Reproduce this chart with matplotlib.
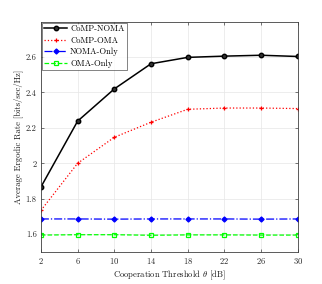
import matplotlib
matplotlib.use("Agg")
from matplotlib import pyplot as plt
import numpy as np

plt.rcParams['font.family'] = 'serif'
plt.rcParams['font.serif'] = ['cmr10', 'DejaVu Serif']
plt.rcParams['mathtext.fontset'] = 'cm'
plt.rcParams['axes.formatter.use_mathtext'] = True

# data
threshold = [2, 6, 10, 14, 18, 22, 26, 30]
comp_noma = [1.866, 2.238, 2.42, 2.562, 2.598, 2.605, 2.61, 2.603]
comp_oma = [1.734, 2.0, 2.147, 2.232, 2.305, 2.312, 2.312, 2.309]
noma_only = [1.686, 1.686, 1.685, 1.686, 1.686, 1.686, 1.685, 1.686]
oma_only = [1.595, 1.597, 1.597, 1.594, 1.596, 1.596, 1.595, 1.595]

fig = plt.figure(figsize=(3.22, 2.84), dpi=100)
ax = fig.add_axes([0.127, 0.113, 0.798, 0.811])

ax.plot(threshold, comp_noma, 'ko-', lw=1.1, ms=3.2, mfc='#303030', mew=1.0, label='CoMP-NOMA')
ax.plot(threshold, comp_oma, 'r+:', lw=0.9, ms=3.5, mew=0.9, label='CoMP-OMA')
ax.plot(threshold, noma_only, 'bD-.', lw=0.9, ms=2.6, mew=0.9, label='NOMA-Only')
ax.plot(threshold, oma_only, 's--', color='#00ff00', lw=0.9, ms=3, mfc='none', mew=0.9, label='OMA-Only')

ax.set_xlim(2, 30)
ax.set_ylim(1.5, 2.8)
ax.set_xticks(threshold)
ax.set_yticks([1.6, 1.8, 2.0, 2.2, 2.4, 2.6])
ax.set_yticklabels(['1.6', '1.8', '2', '2.2', '2.4', '2.6'])
ax.tick_params(direction='in', labelsize=6.2, length=2.5, width=0.5, pad=3,
               colors='#404040', labelcolor='#262626', top=True, right=True)
ax.grid(True, color='#e6e6e6', lw=0.5)
ax.set_axisbelow(True)
for s in ax.spines.values():
    s.set_color('#404040')
    s.set_linewidth(0.6)

ax.set_xlabel(r'Cooperation Threshold $\theta$ [dB]', fontsize=6.2, labelpad=1.5, color='#1a1a1a')
ax.set_ylabel('Average Ergodic Rate [bits/sec/Hz]', fontsize=6.2, labelpad=2, color='#1a1a1a')

leg = ax.legend(loc='upper left', fontsize=6.2, frameon=True, fancybox=False,
                borderpad=0.25, labelspacing=0.35, handlelength=2.6, handletextpad=0.4,
                borderaxespad=0.15)
leg.get_frame().set_edgecolor('#262626')
leg.get_frame().set_linewidth(0.5)
for t in leg.get_texts():
    t.set_color('#000000')

fig.savefig('out.png', dpi=100)
